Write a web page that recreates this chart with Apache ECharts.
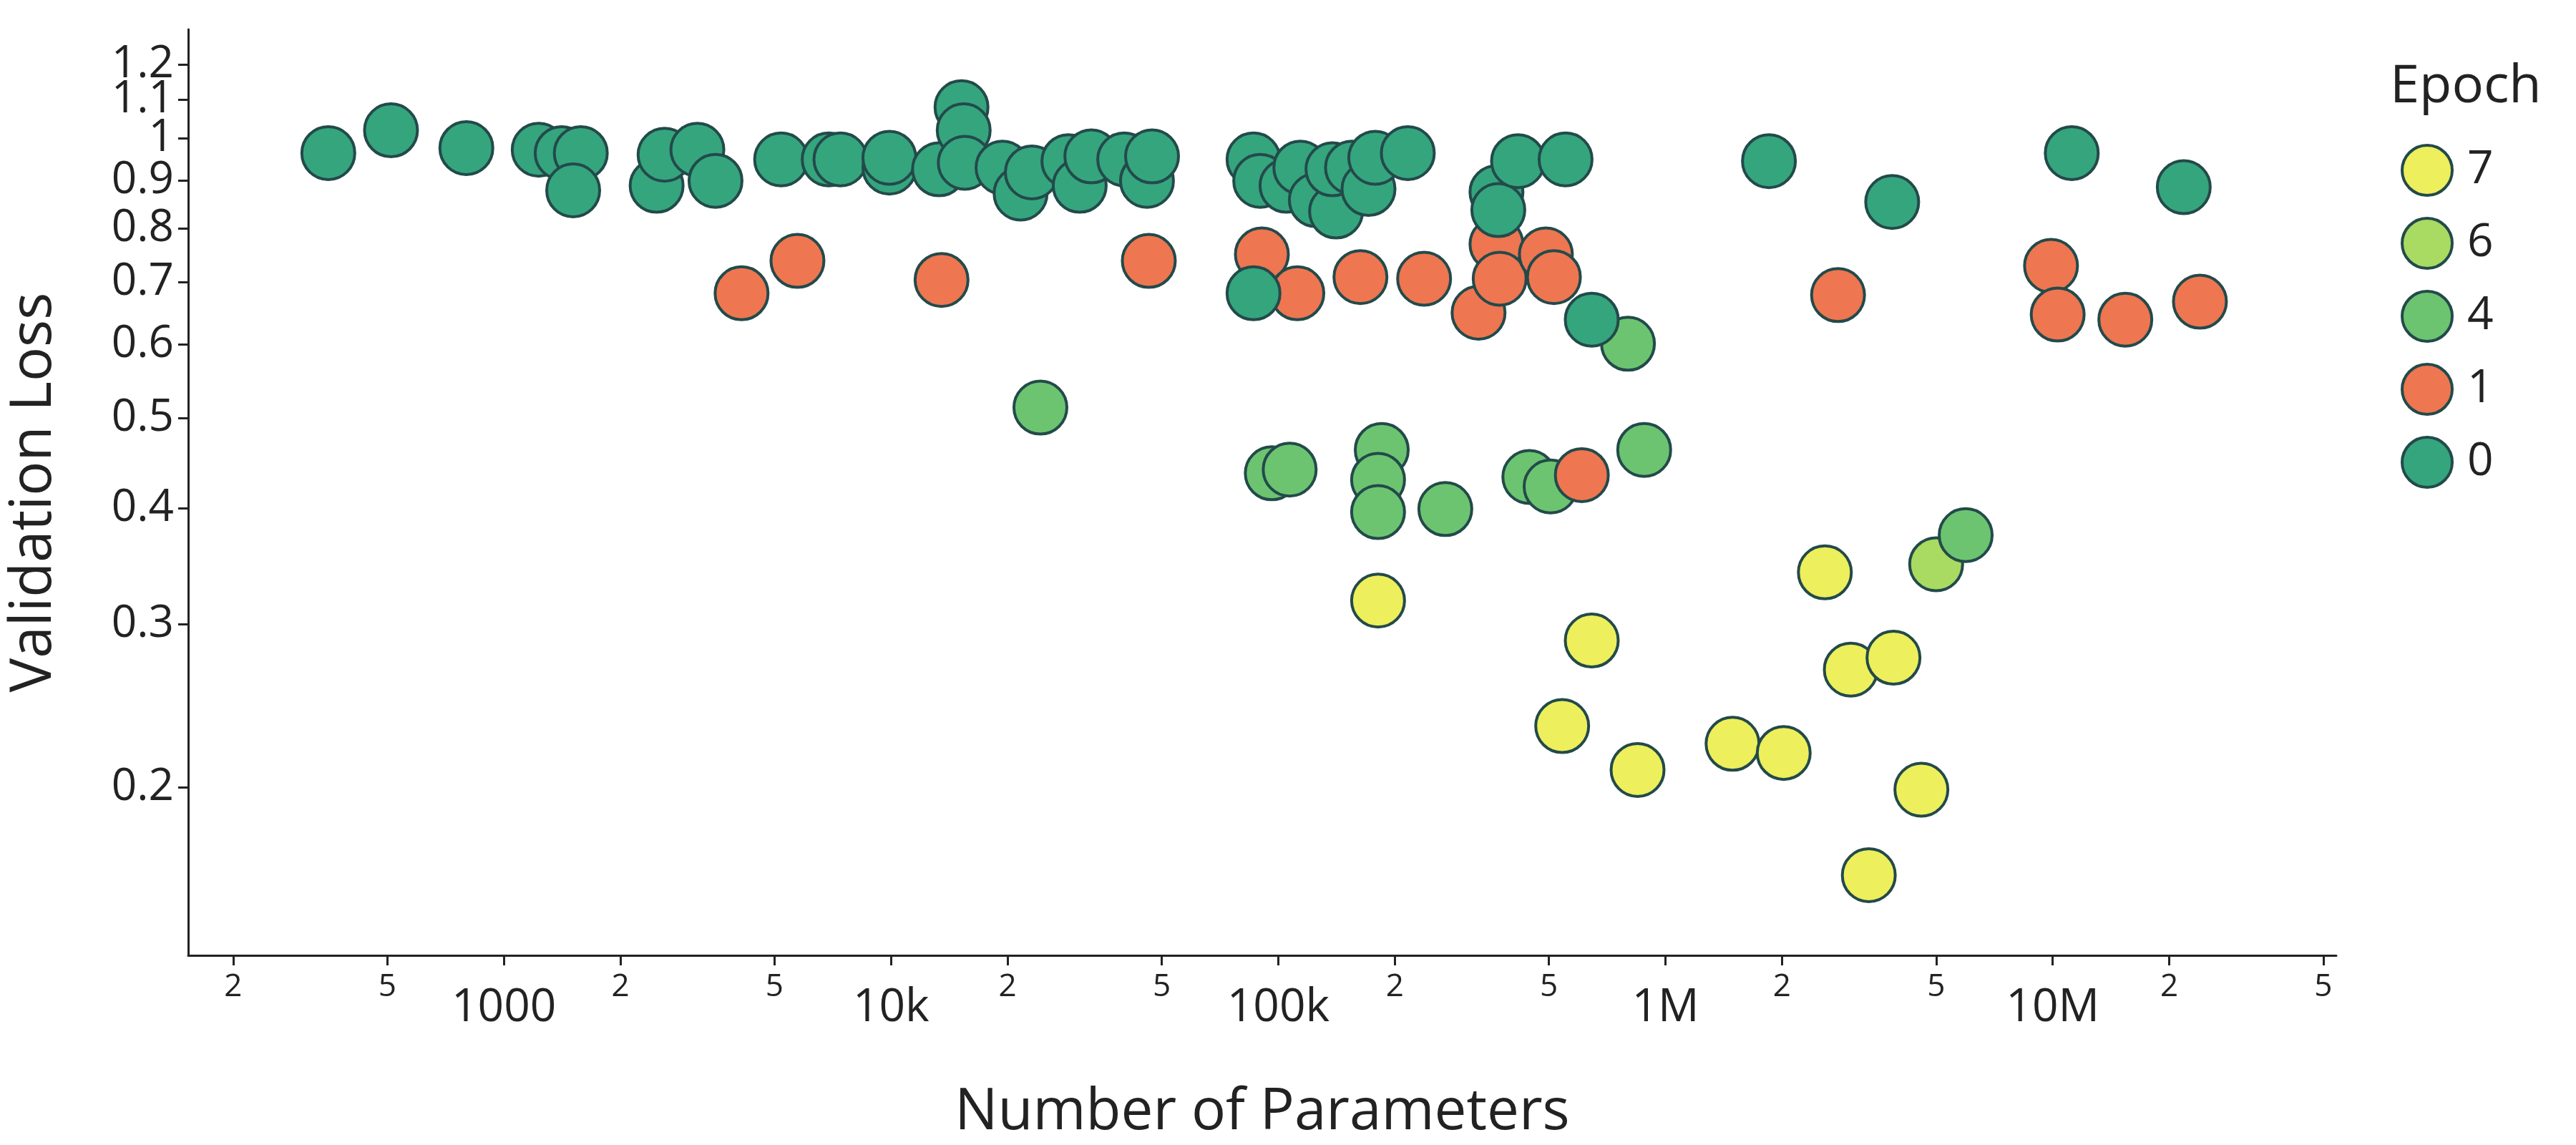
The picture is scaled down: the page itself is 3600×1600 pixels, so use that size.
<!DOCTYPE html>
<html>
<head>
<meta charset="utf-8">
<title>Validation Loss vs Parameters</title>
<script src="https://cdn.jsdelivr.net/npm/echarts@6/dist/echarts.min.js"></script>
</head>
<body style="margin:0;background:#fff">
<div id="chart" style="width:3600px;height:1600px"></div>
<script type="text/javascript">
// [parameters, validation loss] per epoch
var epoch0 = [[352,0.964],[511,1.02],[800,0.976],[1230,0.972],[1410,0.964],[1580,0.964],[1510,0.879],[2480,0.889],[2600,0.960],[3160,0.972],[3520,0.900],[5200,0.949],[6900,0.949],[7400,0.949],[9900,0.930],[9900,0.953],[13300,0.926],[15200,1.08],[15400,1.02],[15500,0.941],[19400,0.930],[21600,0.872],[23100,0.919],[28700,0.945],[30700,0.889],[32900,0.956],[40000,0.949],[45800,0.900],[47200,0.956],[86300,0.949],[89800,0.900],[105000,0.889],[114000,0.930],[125000,0.858],[141000,0.834],[138000,0.926],[155000,0.930],[171000,0.882],[178000,0.953],[216000,0.964],[366000,0.875],[370000,0.837],[416000,0.945],[552000,0.949],[645000,0.638],[1850000,0.945],[3850000,0.854],[11200000,0.964],[21800000,0.886],[86300,0.681]];
var epoch1 = [[4110,0.681],[5730,0.738],[13500,0.704],[46300,0.738],[90700,0.750],[112000,0.681],[163000,0.709],[238000,0.706],[329000,0.649],[366000,0.769],[373000,0.706],[491000,0.750],[515000,0.709],[608000,0.434],[2790000,0.678],[9900000,0.729],[10300000,0.646],[15400000,0.638],[24000000,0.667]];
var epoch4 = [[24300,0.513],[96200,0.436],[107000,0.440],[185000,0.462],[181000,0.429],[181000,0.396],[270000,0.399],[445000,0.432],[505000,0.422],[800000,0.601],[881000,0.462],[5960000,0.374]];
var epoch6 = [[5000000,0.348]];
var epoch7 = [[181000,0.318],[645000,0.288],[541000,0.233],[847000,0.209],[1490000,0.223],[2020000,0.218],[2580000,0.341],[3010000,0.268],[3880000,0.276],[4580000,0.199],[3350000,0.161]];

var yTicks = [0.2,0.3,0.4,0.5,0.6,0.7,0.8,0.9,1,1.1,1.2,1.3];
var xTicks = [200,500,1000,2000,5000,10000,20000,50000,100000,200000,500000,1000000,2000000,5000000,10000000,20000000,50000000];
var xMajor = {1000:'1000',10000:'10k',100000:'100k',1000000:'1M',10000000:'10M'};

var lg = function (v) { return Math.log10(v); };
function toLog(arr) { return arr.map(function (p) { return [lg(p[0]), lg(p[1])]; }); }

var groups = [
  {name:'7', data:epoch7, color:'#edef5c'},
  {name:'6', data:epoch6, color:'#a9da62'},
  {name:'4', data:epoch4, color:'#6cc470'},
  {name:'1', data:epoch1, color:'#ee7651'},
  {name:'0', data:epoch0, color:'#35a57e'}
];

var font = 'Open Sans';
var chart = echarts.init(document.getElementById('chart'));
chart.setOption({
  animation: false,
  textStyle: {fontFamily: font, color: '#222'},
  grid: {left: 259, right: 335, top: 41, bottom: 252},
  title: {text: 'Epoch', left: 3335, top: 80, textStyle: {fontFamily: font, fontSize: 74, fontWeight: 'normal', color: '#222'}},
  legend: {
    orient: 'vertical', left: 3350, top: 196, itemGap: 28,
    itemWidth: 70, itemHeight: 70, icon: 'circle',
    itemStyle: {borderColor: '#234a4a', borderWidth: 4},
    textStyle: {fontSize: 64, fontFamily: font, color: '#222', padding: [0,0,0,16]},
    data: groups.map(function (g) { return g.name; })
  },
  xAxis: {
    type: 'value', min: lg(153), max: lg(54000000),
    name: 'Number of Parameters', nameLocation: 'middle', nameGap: 180,
    nameTextStyle: {fontSize: 80, color: '#222'},
    splitLine: {show: false},
    axisLine: {onZero: false, lineStyle: {color: '#222', width: 3}},
    axisTick: {customValues: xTicks.map(lg), length: 14, lineStyle: {color: '#222', width: 3}},
    axisLabel: {
      customValues: xTicks.map(lg), margin: 22,
      formatter: function (v) {
        var n = Math.round(Math.pow(10, v));
        var key = Object.keys(xMajor).find(function (k) { return Math.abs(k / n - 1) < 0.01; });
        if (key) return '{b|' + xMajor[key] + '}';
        return '{s|' + String(n).charAt(0) + '}';
      },
      rich: {
        b: {fontSize: 64, color: '#222', fontFamily: font, padding: [20,0,0,0]},
        s: {fontSize: 44, color: '#222', fontFamily: font}
      }
    }
  },
  yAxis: {
    type: 'value', min: lg(0.132), max: lg(1.31),
    name: 'Validation Loss', nameLocation: 'middle', nameGap: 175,
    nameTextStyle: {fontSize: 80, color: '#222'},
    splitLine: {show: false},
    axisLine: {show: true, onZero: false, lineStyle: {color: '#222', width: 3}},
    axisTick: {show: true, customValues: yTicks.map(lg), length: 14, lineStyle: {color: '#222', width: 3}},
    axisLabel: {
      customValues: yTicks.map(lg), fontSize: 62, color: '#222', margin: 20,
      formatter: function (v) { return String(Math.round(Math.pow(10, v) * 10) / 10); }
    }
  },
  series: groups.map(function (g) {
    return {
      type: 'scatter', name: g.name, data: toLog(g.data), symbolSize: 74,
      itemStyle: {color: g.color, opacity: 1, borderColor: '#234a4a', borderWidth: 4}
    };
  })
});
</script>
</body>
</html>
